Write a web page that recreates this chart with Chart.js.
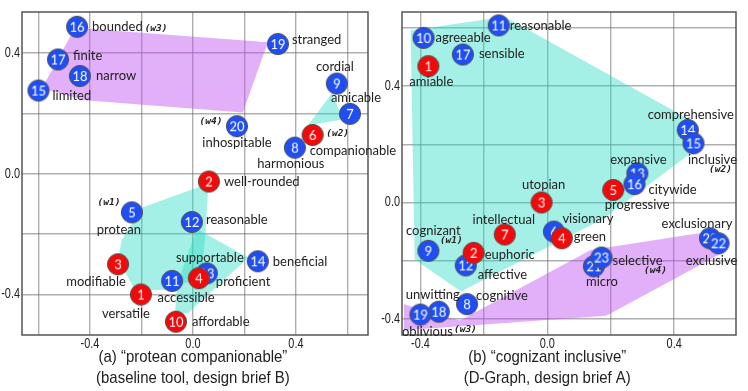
<!DOCTYPE html>
<html>
<head>
<meta charset="utf-8">
<title>protean companionable / cognizant inclusive</title>
<script src="https://cdn.jsdelivr.net/npm/chart.js"></script>
<style>
  body { margin: 0; background: #fff; }
  #wrap { position: relative; width: 748px; height: 391px; }
  #left { position: absolute; left: 0; top: 0; }
  #right { position: absolute; left: 380px; top: 0; }
</style>
</head>
<body>
<div id="wrap">
  <canvas id="left" width="400" height="391"></canvas>
  <canvas id="right" width="368" height="391"></canvas>
</div>
<script>
// ---- panel (a): baseline tool, "protean companionable" ----
const leftWords = ["versatile", "well-rounded", "modifiable", "proficient", "protean",
  "companionable", "amicable", "harmonious", "cordial", "affordable", "accessible",
  "reasonable", "supportable", "beneficial", "limited", "bounded", "finite", "narrow",
  "stranged", "inhospitable"];
const leftX = [-0.202, 0.062, -0.291, 0.023, -0.237, 0.465, 0.610, 0.396, 0.559, -0.066,
  -0.081, -0.004, 0.054, 0.252, -0.600, -0.450, -0.524, -0.439, 0.330, 0.171];
const leftY = [-0.400, -0.026, -0.300, -0.346, -0.128, 0.128, 0.198, 0.086, 0.298, -0.490,
  -0.355, -0.160, -0.330, -0.290, 0.275, 0.486, 0.378, 0.323, 0.429, 0.157];
const leftRed = [1, 2, 3, 4, 6, 10];
const leftTags = { 5: "(w1)", 6: "(w2)", 16: "(w3)", 20: "(w4)" };
const leftHullW1a = [[0.060, -0.033], [-0.199, -0.113], [-0.277, -0.220], [-0.290, -0.284],
  [-0.225, -0.385], [-0.102, -0.385], [0.034, -0.342], [0.050, -0.182]];
const leftHullW1b = [[0.014, -0.182], [0.215, -0.278], [-0.018, -0.460], [-0.070, -0.465], [-0.061, -0.364]];
const leftHullW2 = [[0.540, 0.266], [0.583, 0.179], [0.447, 0.160]];
const leftHullW34 = [[-0.458, 0.483], [0.291, 0.435], [0.194, 0.202], [-0.419, 0.243], [-0.587, 0.282]];
const leftCaption = ["(a) \u201cprotean companionable\u201d", "(baseline tool, design brief B)"];

// ---- panel (b): D-Graph, "cognizant inclusive" ----
const rightWords = ["amiable", "euphoric", "utopian", "green", "progressive", "visionary",
  "intellectual", "cognitive", "cognizant", "agreeable", "reasonable", "affective",
  "expansive", "comprehensive", "inclusive", "citywide", "sensible", "unwitting",
  "oblivious", "exclusionary", "micro", "exclusive", "selective"];
const rightX = [-0.375, -0.232, -0.018, 0.046, 0.208, 0.021, -0.134, -0.253, -0.375, -0.390,
  -0.153, -0.257, 0.284, 0.443, 0.461, 0.275, -0.266, -0.342, -0.400, 0.513, 0.147, 0.540, 0.171];
const rightY = [0.468, -0.173, 0.000, -0.123, 0.043, -0.100, -0.110, -0.349, -0.166, 0.565,
  0.608, -0.216, 0.100, 0.249, 0.203, 0.063, 0.508, -0.375, -0.385, -0.123, -0.219, -0.140, -0.189];
const rightRed = [1, 2, 3, 4, 5, 7];
const rightTags = { 9: "(w1)", 15: "(w2)", 19: "(w3)", 23: "(w4)" };
const rightHullW12 = [[-0.431, 0.591], [-0.134, 0.638], [0.437, 0.292], [0.452, 0.169],
  [0.177, -0.056], [-0.272, -0.306], [-0.418, -0.196]];
const rightHullW34 = [[-0.452, -0.349], [-0.275, -0.405], [0.137, -0.163], [0.534, -0.096],
  [0.553, -0.173], [0.186, -0.389], [-0.452, -0.439]];
const rightCaption = ["(b) \u201ccognizant inclusive\u201d", "(D-Graph, design brief A)"];

// label placement: id -> [dx, dy, align]  (pixels from the marker centre)
const leftPlace = {
  1: [-15, 19, "c"], 2: [15, 0, "l"], 3: [-22, 18, "c"], 4: [17, 4, "l"], 5: [-13, 17, "c"],
  6: [-3, 16, "l"], 7: [6, -16, "c"], 8: [-4, 16, "c"], 9: [-2, -17, "c"], 10: [16, 0, "l"],
  11: [14, 17, "c"], 12: [14, -2, "l"], 13: [3, -16, "c"], 14: [15, 1, "l"], 15: [14, 5, "l"],
  16: [15, 0, "l"], 17: [15, -4, "l"], 18: [16, 0, "l"], 19: [14, -4, "l"], 20: [0, 17, "c"]
};
const leftTagPlace = { 5: [-23, -10], 6: [25, -1], 16: [79, 2], 20: [-26, -5] };
const rightPlace = {
  1: [3, 16, "c"], 2: [11, 2, "l"], 3: [2, -18, "c"], 4: [12, -1, "l"], 5: [24, 15, "c"],
  6: [34, -13, "c"], 7: [-1, -15, "c"], 8: [9, -8, "l"], 9: [5, -20, "c"], 10: [12, 0, "l"],
  11: [11, 0, "l"], 12: [12, 9, "l"], 13: [1, -14, "c"], 14: [3, -15, "c"], 15: [19, 16, "c"],
  16: [14, 6, "l"], 17: [16, -1, "l"], 18: [-6, -17, "c"], 19: [7, 17, "c"], 20: [-13, -14, "c"],
  21: [8, 16, "c"], 22: [-7, 18, "c"], 23: [11, 3, "l"]
};
const rightTagPlace = { 9: [23, -10], 15: [27, 26], 19: [45, 15], 23: [54, 13] };

const BLUE = "#1f4ef5", RED = "#f20a0a";
const TEAL = "rgba(40,220,195,0.42)", PURPLE = "rgba(190,80,240,0.45)";
const ALIGN = { l: "left", c: "center", r: "right" };

function marker(num, color) {
  const c = document.createElement("canvas");
  c.width = 24; c.height = 24;
  const g = c.getContext("2d");
  g.beginPath();
  g.arc(12, 12, 10.6, 0, Math.PI * 2);
  g.fillStyle = color;
  g.fill();
  g.lineWidth = 1;
  g.strokeStyle = "#505050";
  g.stroke();
  g.fillStyle = "#fff";
  g.font = "13px Lato";
  g.textAlign = "center";
  g.textBaseline = "middle";
  g.fillText(String(num), 12, 12.5);
  return c;
}

function pointSet(xs, ys, red, wantRed) {
  const data = [], styles = [];
  xs.forEach((x, i) => {
    const id = i + 1;
    if (red.includes(id) !== wantRed) return;
    data.push({ x: x, y: ys[i] });
    styles.push(marker(id, wantRed ? RED : BLUE));
  });
  return {
    data: data, pointStyle: styles, pointRadius: 11, pointHoverRadius: 11,
    order: wantRed ? 1 : 2
  };
}

function hull(pts, color) {
  const data = pts.map(p => ({ x: p[0], y: p[1] }));
  data.push(data[0]);
  return {
    type: "line", data: data, fill: "shape", backgroundColor: color,
    borderWidth: 0, pointRadius: 0, tension: 0, order: 3
  };
}

function tickLabel(v) {
  const q = v / 0.4;
  return Math.abs(q - Math.round(q)) < 1e-6 ? (Math.abs(v) < 1e-9 ? "0.0" : v.toFixed(1)) : "";
}

// condensed text (the original uses a narrow face)
function narrowText(ctx, text, x, y, squeeze) {
  ctx.save();
  ctx.translate(x, y);
  ctx.scale(squeeze, 1);
  ctx.fillText(text, 0, 0);
  ctx.restore();
}

const framePlugin = {
  id: "frame",
  beforeDatasetsDraw(chart) {
    const a = chart.chartArea, ctx = chart.ctx;
    ctx.save();
    ctx.strokeStyle = "#555";
    ctx.lineWidth = 1.5;
    ctx.strokeRect(a.left, a.top, a.right - a.left, a.bottom - a.top);
    ctx.restore();
  }
};

function wordPlugin(words, xs, ys, place, tags, tagPlace, caption) {
  return {
    id: "words",
    afterDatasetsDraw(chart) {
      const ctx = chart.ctx, sx = chart.scales.x, sy = chart.scales.y, a = chart.chartArea;
      ctx.save();
      ctx.textBaseline = "middle";
      ctx.fillStyle = "#222";
      ctx.font = "13px Lato";
      words.forEach((w, i) => {
        const p = place[i + 1];
        ctx.textAlign = ALIGN[p[2]];
        ctx.fillText(w, sx.getPixelForValue(xs[i]) + p[0], sy.getPixelForValue(ys[i]) + p[1]);
      });
      ctx.font = "italic bold 9.5px 'DejaVu Sans Mono'";
      ctx.textAlign = "center";
      Object.keys(tags).forEach(id => {
        const p = tagPlace[id], i = id - 1;
        ctx.fillText(tags[id], sx.getPixelForValue(xs[i]) + p[0], sy.getPixelForValue(ys[i]) + p[1]);
      });

      // tick labels
      ctx.font = "14px 'Liberation Sans'";
      sx.ticks.forEach(t => {
        const s = tickLabel(t.value);
        if (s) narrowText(ctx, s, sx.getPixelForValue(t.value), a.bottom + 9, 0.78);
      });
      ctx.textAlign = "right";
      sy.ticks.forEach(t => {
        const s = tickLabel(t.value);
        if (s) narrowText(ctx, s, a.left - 2, sy.getPixelForValue(t.value), 0.78);
      });

      // caption
      ctx.textAlign = "center";
      ctx.font = "17px 'Liberation Sans'";
      const cx = sx.getPixelForValue(0);
      narrowText(ctx, caption[0], cx, 357, 0.88);
      narrowText(ctx, caption[1], cx, 378, 0.88);
      ctx.restore();
    }
  };
}

function axis(min, max, isX) {
  return {
    type: "linear", min: min, max: max,
    afterFit: isX ? s => { s.height = 20; } : s => { s.width = 22; },
    border: { display: false },
    grid: { color: "rgba(110,110,110,0.55)", lineWidth: 1.4, drawTicks: false },
    ticks: { stepSize: 0.2, includeBounds: false, autoSkip: false, display: false }
  };
}

function makeChart(id, cfg) {
  new Chart(document.getElementById(id), {
    type: "scatter",
    data: {
      datasets: cfg.hulls.concat([
        pointSet(cfg.xs, cfg.ys, cfg.red, false),
        pointSet(cfg.xs, cfg.ys, cfg.red, true)
      ])
    },
    options: {
      responsive: false,
      animation: false,
      events: [],
      layout: { padding: { top: 1, right: cfg.padRight, bottom: 36, left: 0 } },
      plugins: { legend: { display: false }, tooltip: { enabled: false } },
      scales: {
        x: axis(cfg.xRange[0], cfg.xRange[1], true),
        y: axis(cfg.yRange[0], cfg.yRange[1], false)
      }
    },
    plugins: [framePlugin,
      wordPlugin(cfg.words, cfg.xs, cfg.ys, cfg.place, cfg.tags, cfg.tagPlace, cfg.caption)]
  });
}

makeChart("left", {
  words: leftWords, xs: leftX, ys: leftY, red: leftRed,
  tags: leftTags, place: leftPlace, tagPlace: leftTagPlace, caption: leftCaption,
  hulls: [hull(leftHullW34, PURPLE), hull(leftHullW2, TEAL), hull(leftHullW1a, TEAL), hull(leftHullW1b, TEAL)],
  xRange: [-0.664, 0.68], yRange: [-0.534, 0.535], padRight: 32
});

makeChart("right", {
  words: rightWords, xs: rightX, ys: rightY, red: rightRed,
  tags: rightTags, place: rightPlace, tagPlace: rightTagPlace, caption: rightCaption,
  hulls: [hull(rightHullW34, PURPLE), hull(rightHullW12, TEAL)],
  xRange: [-0.458, 0.595], yRange: [-0.455, 0.654], padRight: 1
});
</script>
</body>
</html>
